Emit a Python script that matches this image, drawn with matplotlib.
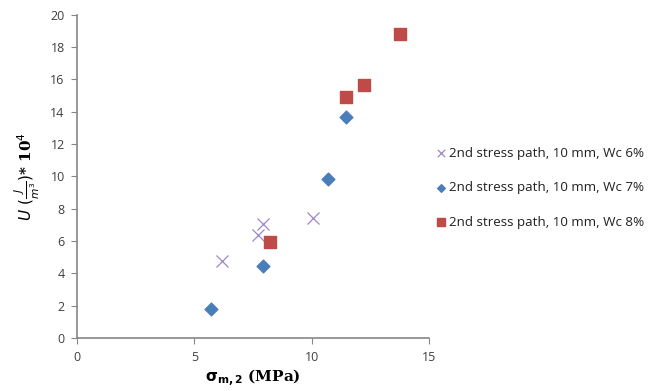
import matplotlib
matplotlib.use("Agg")
import matplotlib.pyplot as plt

# Data
wc6_x = [6.18, 7.70, 7.94, 10.07]
wc6_y = [4.77, 6.36, 7.06, 7.41]
wc7_x = [5.70, 7.91, 10.69, 11.46]
wc7_y = [1.80, 4.44, 9.83, 13.70]
wc8_x = [8.22, 11.45, 12.21, 13.76]
wc8_y = [5.92, 14.92, 15.64, 18.80]
labels = ["2nd stress path, 10 mm, Wc 6%",
          "2nd stress path, 10 mm, Wc 7%",
          "2nd stress path, 10 mm, Wc 8%"]

plt.rcParams['font.family'] = ['Open Sans', 'DejaVu Sans']

fig = plt.figure(figsize=(6.54, 3.91), dpi=100)
ax = fig.add_axes([0.118, 0.1355, 0.538, 0.8265])

ax.scatter(wc6_x, wc6_y, marker='x', s=75, color='#9e86c5', linewidths=0.9, label=labels[0])
ax.scatter(wc7_x, wc7_y, marker='D', s=42, color='#4a7ebb', edgecolors='#4a7ebb', label=labels[1])
ax.scatter(wc8_x, wc8_y, marker='s', s=80, color='#be4b48', edgecolors='#be4b48', label=labels[2])

ax.set_xlim(0, 15)
ax.set_ylim(0, 20)
ax.set_xticks([0, 5, 10, 15])
ax.set_yticks(range(0, 21, 2))

for side in ['top', 'right']:
    ax.spines[side].set_visible(False)
for side in ['left', 'bottom']:
    ax.spines[side].set_color('#868686')
    ax.spines[side].set_linewidth(1.2)
ax.tick_params(direction='out', length=4, color='#868686', labelsize=9,
               labelcolor='#404040', pad=5)

ax.set_xlabel(r'$\mathbf{\sigma_{m,2}}$ (MPa)', fontsize=11, family='DejaVu Serif',
              fontweight='bold', labelpad=3)
ax.set_ylabel(r'$\mathbf{\mathit{U}}$ $(\frac{J}{m^3})$* 10$^4$', fontsize=11,
              family='DejaVu Serif', fontweight='bold', labelpad=6)

leg = ax.legend(loc='center left', bbox_to_anchor=(0.98, 0.465), frameon=False,
                fontsize=9.6, labelspacing=1.6, handletextpad=0.1, markerscale=0.6,
                handlelength=1.0)
for t in leg.get_texts():
    t.set_color('#202020')

fig.savefig('out.png', dpi=100)
